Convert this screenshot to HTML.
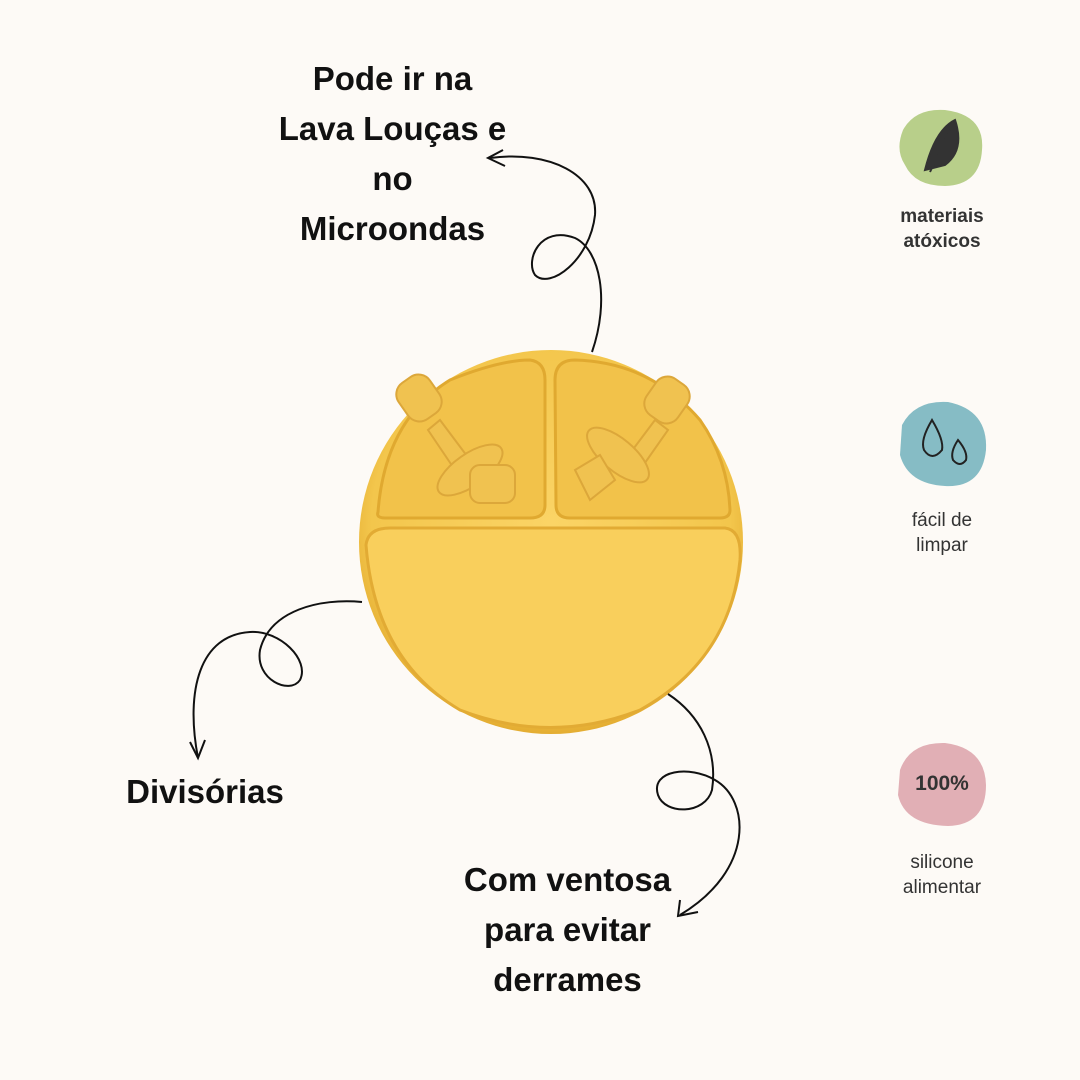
<!DOCTYPE html>
<html><head><meta charset="utf-8"><style>
body{margin:0;background:#fdfaf6;}
.w{position:relative;width:1080px;height:1080px;overflow:hidden;background:#fdfaf6;font-family:"Liberation Sans",sans-serif;}
.t{position:absolute;text-align:center;font-weight:bold;color:#111;font-size:33px;line-height:50px;}
.s{position:absolute;text-align:center;color:#333;font-size:19px;line-height:25px;width:160px;}
</style></head><body><div class="w">
<svg width="1080" height="1080" style="position:absolute;left:0;top:0">
<defs>
<radialGradient id="g" cx="50%" cy="45%" r="55%"><stop offset="0" stop-color="#fbd466"/><stop offset="0.85" stop-color="#f3c64c"/><stop offset="1" stop-color="#e4ad32"/></radialGradient>
</defs>
<circle cx="551" cy="542" r="192" fill="url(#g)"/>
<path d="M366 545 Q368 528 390 528 L725 528 Q742 530 740 560 Q730 660 640 710 Q551 745 460 710 Q375 660 366 545Z" fill="#f9cf5c" stroke="#e2ab34" stroke-width="3"/>
<path d="M378 512 Q385 420 450 380 Q500 360 530 360 Q545 362 545 380 L545 505 Q545 518 530 518 L385 518 Q376 518 378 512Z" fill="#f2c24a" stroke="#e0a930" stroke-width="3"/>
<path d="M555 380 Q555 360 575 360 Q650 362 700 420 Q728 460 730 510 Q730 518 720 518 L570 518 Q556 518 556 505Z" fill="#f2c24a" stroke="#e0a930" stroke-width="3"/>
<g fill="#f0c250" stroke="#dca73a" stroke-width="2">
<rect x="400" y="376" width="38" height="44" rx="14" transform="rotate(-35 419 398)"/>
<path d="M440 420 L470 460 L455 470 L428 430Z"/>
<ellipse cx="470" cy="470" rx="38" ry="16" transform="rotate(-35 470 470)"/>
<rect x="470" y="465" width="45" height="38" rx="10"/>
<rect x="648" y="378" width="38" height="44" rx="14" transform="rotate(35 667 400)"/>
<path d="M655 420 L625 460 L640 470 L668 430Z"/>
<ellipse cx="618" cy="455" rx="38" ry="16" transform="rotate(40 618 455)"/>
<path d="M575 470 L600 455 L615 480 L590 500Z"/>
</g>
<g fill="none" stroke="#111" stroke-width="2">
<path d="M592 352 C610 300 600 250 575 238 C540 225 525 260 535 275 C550 290 590 260 595 215 C598 175 550 150 490 158"/>
<path d="M503 150 L488 158 L505 166"/>
<path d="M362 602 C320 598 270 610 260 650 C255 680 290 695 300 680 C310 660 280 630 250 632 C200 635 185 690 198 758"/>
<path d="M190 742 L198 758 L205 740"/>
<path d="M668 694 C700 715 718 750 712 790 C705 815 665 815 658 795 C650 770 690 765 715 780 C750 800 755 870 680 915"/>
<path d="M680 900 L678 916 L698 912"/>
</g>
<path d="M903 130 Q915 108 945 110 Q985 115 982 150 Q980 185 945 186 Q915 186 905 165 Q895 150 903 130Z" fill="#b8cf8a"/>
<path d="M925 170 Q935 130 955 120 Q965 150 945 165Z M930 172 L950 130" fill="#333" stroke="#333" stroke-width="2"/>
<path d="M902 425 Q915 400 948 402 Q988 410 986 450 Q982 488 945 486 Q908 484 900 455Z" fill="#86bcc5"/>
<path d="M932 420 Q920 440 924 450 Q932 462 942 450 Q944 440 932 420Z M958 440 Q950 452 953 460 Q960 468 966 460 Q968 452 958 440Z" fill="none" stroke="#222" stroke-width="2"/>
<path d="M900 770 Q910 742 945 743 Q985 748 986 785 Q986 825 948 826 Q905 825 898 795Z" fill="#e1afb5"/>
</svg>
<div class="t" style="left:250px;top:54px;width:285px">Pode ir na<br>Lava Louças e<br>no<br>Microondas</div>
<div class="t" style="left:100px;top:767px;width:210px">Divisórias</div>
<div class="t" style="left:440px;top:855px;width:255px">Com ventosa<br>para evitar<br>derrames</div>
<div class="s" style="left:862px;top:204px;font-weight:bold">materiais<br>atóxicos</div>
<div class="s" style="left:862px;top:508px">fácil de<br>limpar</div>
<div class="s" style="left:862px;top:771px;font-weight:bold;font-size:21px">100%</div>
<div class="s" style="left:862px;top:850px">silicone<br>alimentar</div>
</div></body></html>
